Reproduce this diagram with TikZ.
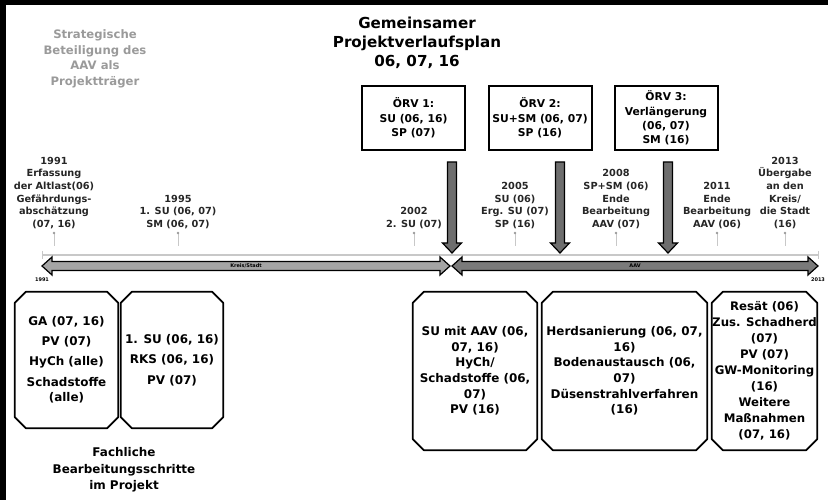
\documentclass[tikz,border=0pt]{standalone}
\usepackage{fontspec}
\setmainfont{DejaVu Sans}
\usetikzlibrary{positioning}
\usepackage{xcolor}
\definecolor{textgrau}{HTML}{9A9A9A}
\definecolor{strichgrau}{HTML}{C8C8C8}
\definecolor{punktgrau}{HTML}{9A9A9A}
\definecolor{hellgrau}{HTML}{A4A4A4}
\definecolor{dunkelgrau}{HTML}{7A7A7A}
\definecolor{pfeilgrau}{HTML}{6E6E6E}

\tikzset{
  ereignis/.style={anchor=south, align=center, inner sep=0pt, text=black!85,
    font=\fontsize{9.8}{12.7}\selectfont\bfseries},
  orvbox/.style={draw=black, line width=2bp, fill=white, minimum width=103bp,
    minimum height=64bp, align=center, inner sep=0pt,
    font=\fontsize{10.8}{14.5}\selectfont\bfseries},
  schritt/.style={align=center, inner sep=0pt,
    font=\fontsize{12}{15.6}\selectfont\bfseries},
  rahmen/.style={draw=black, line width=1.8bp, line join=round},
  stiel/.style={draw=strichgrau, line width=1bp},
  balken/.style={draw=black, line width=1.2bp},
  pfeil/.style={draw=black, line width=1.2bp, fill=pfeilgrau},
  balkentext/.style={inner sep=0pt, font=\fontsize{5}{6}\selectfont\bfseries},
}

% Achteck um einen Knoten
\newcommand{\achteck}[1]{%
  \draw[rahmen] ([xshift=11bp]#1.north west) -- ([xshift=-11bp]#1.north east)
    -- ([yshift=-11bp]#1.north east) -- ([yshift=11bp]#1.south east)
    -- ([xshift=-11bp]#1.south east) -- ([xshift=11bp]#1.south west)
    -- ([yshift=11bp]#1.south west) -- ([yshift=-11bp]#1.north west) -- cycle;}

\begin{document}
\begin{tikzpicture}[x=1bp,y=-1bp]
\useasboundingbox (0,0) rectangle (828,500);

% Rahmen
\draw[line width=5bp] (0,2.5) -- (828,2.5);
\draw[line width=6bp] (3,0) -- (3,500);

% Kopf
\node[align=center, inner sep=0pt, text=textgrau, font=\fontsize{11.7}{15.7}\selectfont\bfseries] (strat) at (95,59) {Strategische\\Beteiligung des\\AAV als\\Projektträger};
\node[align=center, inner sep=0pt, font=\fontsize{15.2}{19}\selectfont\bfseries] (titel) at (417,43) {Gemeinsamer\\Projektverlaufsplan\\06, 07, 16};

\node[orvbox] (orv1) at (413.5,118) {ÖRV 1:\\SU (06, 16)\\SP (07)};
\node[orvbox] (orv2) at (540,118) {ÖRV 2:\\SU+SM (06, 07)\\SP (16)};
\node[orvbox] (orv3) at (666,118) {ÖRV 3:\\Verlängerung\\(06, 07)\\SM (16)};

% Pfeile der ÖRV
\coordinate (p1) at (452,162);
\coordinate (p2) at (560,162);
\coordinate (p3) at (668,162);
\draw[pfeil] (p1) ++(-4.5,0) -- ++(9,0) -- ++(0,81) -- ++(5,0) -- ++(-9.5,10) -- ++(-9.5,-10) -- ++(5,0) -- cycle;
\draw[pfeil] (p2) ++(-4.5,0) -- ++(9,0) -- ++(0,81) -- ++(5,0) -- ++(-9.5,10) -- ++(-9.5,-10) -- ++(5,0) -- cycle;
\draw[pfeil] (p3) ++(-4.5,0) -- ++(9,0) -- ++(0,81) -- ++(5,0) -- ++(-9.5,10) -- ++(-9.5,-10) -- ++(5,0) -- cycle;

% Ereignisse
\node[ereignis] (e91) at (54,229) {1991\\Erfassung\\der Altlast(06)\\Gefährdungs-\\abschätzung\\(07, 16)};
\node[ereignis] (e95) at (178,229) {1995\\1. SU (06, 07)\\SM (06, 07)};
\node[ereignis] (e02) at (414,229) {2002\\2. SU (07)};
\node[ereignis] (e05) at (515,229) {2005\\SU (06)\\Erg. SU (07)\\SP (16)};
\node[ereignis] (e08) at (616,229) {2008\\SP+SM (06)\\Ende\\Bearbeitung\\AAV (07)};
\node[ereignis] (e11) at (717,229) {2011\\Ende\\Bearbeitung\\AAV (06)};
\node[ereignis] (e13) at (785,229) {2013\\Übergabe\\an den\\Kreis/\\die Stadt\\(16)};

\draw[stiel] (54,233) -- (54,246);
\draw[stiel] (178,233) -- (178,246);
\draw[stiel] (414,233) -- (414,246);
\draw[stiel] (515,233) -- (515,246);
\draw[stiel] (616,233) -- (616,246);
\draw[stiel] (717,233) -- (717,246);
\draw[stiel] (785,233) -- (785,246);
\fill[punktgrau] (54,233) circle [radius=1.3];
\fill[punktgrau] (178,233) circle [radius=1.3];
\fill[punktgrau] (414,233) circle [radius=1.3];
\fill[punktgrau] (515,233) circle [radius=1.3];
\fill[punktgrau] (616,233) circle [radius=1.3];
\fill[punktgrau] (717,233) circle [radius=1.3];
\fill[punktgrau] (785,233) circle [radius=1.3];

% Zeitachse
\draw[strichgrau, line width=1.5bp] (42,255) -- (818,255);
\draw[strichgrau, line width=1bp] (42,251) -- (42,259);
\draw[strichgrau, line width=1bp] (818,251) -- (818,259);

\draw[balken, fill=hellgrau] (42,266) -- (52,257) -- (52,261.5) -- (440,261.5) -- (440,257) -- (450,266) -- (440,275) -- (440,270.5) -- (52,270.5) -- (52,275) -- cycle;
\node[balkentext] (ks) at (246,266) {Kreis/Stadt};
\draw[balken, fill=dunkelgrau] (452,266) -- (462,257) -- (462,261.5) -- (808,261.5) -- (808,257) -- (818,266) -- (808,275) -- (808,270.5) -- (462,270.5) -- (462,275) -- cycle;
\node[balkentext] (aav) at (635,266) {AAV};

\node[balkentext] (j91) at (42,280) {1991};
\node[balkentext] (j13) at (818,280) {2013};

% Bearbeitungsschritte
\node[schritt, minimum width=103bp, minimum height=136bp] (s1) at (66.5,360) {GA (07, 16)\\[4.5pt]PV (07)\\[4.5pt]HyCh (alle)\\[4.5pt]Schadstoffe\\(alle)};
\node[schritt, minimum width=102bp, minimum height=136bp] (s2) at (172,360) {1. SU (06, 16)\\[5pt]RKS (06, 16)\\[5pt]PV (07)};
\node[schritt, minimum width=124bp, minimum height=158bp] (s3) at (475,371) {SU mit AAV (06,\\07, 16)\\HyCh/\\Schadstoffe (06,\\07)\\PV (16)};
\node[schritt, minimum width=165bp, minimum height=158bp] (s4) at (624.5,371) {Herdsanierung (06, 07,\\16)\\Bodenaustausch (06,\\07)\\Düsenstrahlverfahren\\(16)};
\node[schritt, minimum width=105bp, minimum height=158bp, font=\fontsize{11.8}{16}\selectfont\bfseries] (s5) at (764.5,371) {Resät (06)\\Zus. Schadherd\\(07)\\PV (07)\\GW-Monitoring\\(16)\\Weitere\\Maßnahmen\\(07, 16)};
\achteck{s1}
\achteck{s2}
\achteck{s3}
\achteck{s4}
\achteck{s5}

\node[align=center, inner sep=0pt, font=\fontsize{12}{16.5}\selectfont\bfseries] (fach) at (124,470) {Fachliche\\Bearbeitungsschritte\\im Projekt};

\end{tikzpicture}
\end{document}
